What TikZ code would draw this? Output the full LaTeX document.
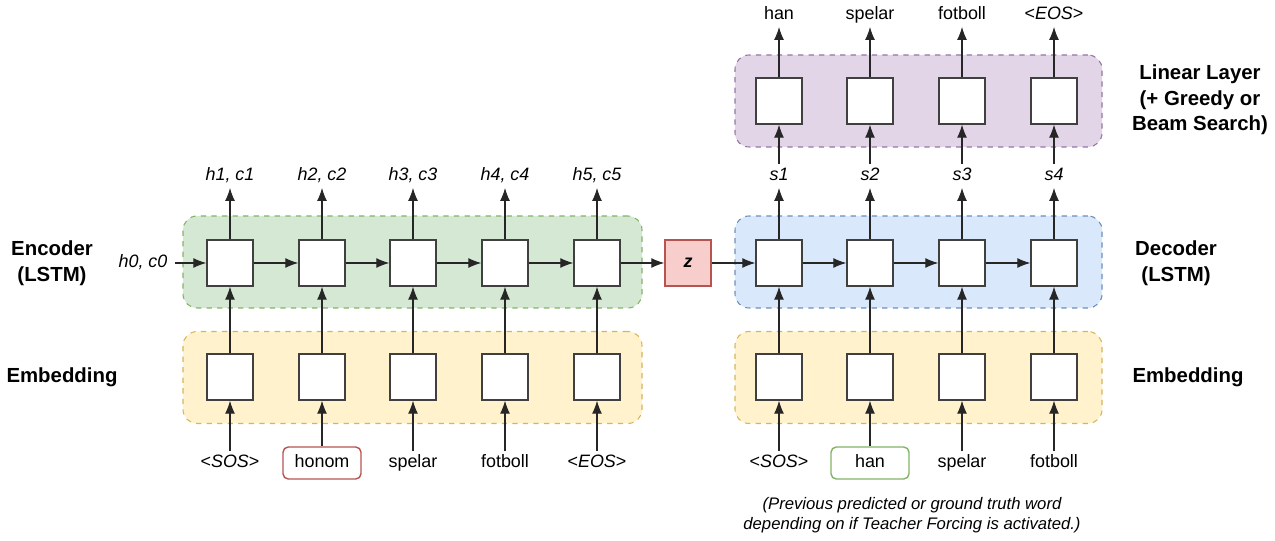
\documentclass[tikz,border=0pt]{standalone}
\usepackage{fontspec}
\setmainfont{Liberation Sans}
\usetikzlibrary{arrows.meta}

\definecolor{encfill}{HTML}{D5E8D4}
\definecolor{encline}{HTML}{82B366}
\definecolor{embfill}{HTML}{FFF2CC}
\definecolor{embline}{HTML}{D6B656}
\definecolor{decfill}{HTML}{DAE8FC}
\definecolor{decline}{HTML}{6C8EBF}
\definecolor{linfill}{HTML}{E1D5E7}
\definecolor{linline}{HTML}{9673A6}
\definecolor{zfill}{HTML}{F8CECC}
\definecolor{zline}{HTML}{B85450}

\begin{document}
\begin{tikzpicture}
    [
        font=\fontsize{10.2}{11.5}\selectfont,
        cell/.style={draw=black!75, fill=white, line width=0.8pt, minimum size=0.92cm, inner sep=0pt},
        layer/.style={draw=#1line, fill=#1fill, dashed, line width=0.6pt, rounded corners=8pt,
                      minimum width=9.18cm, minimum height=1.84cm, inner sep=0pt},
        title/.style={font=\fontsize{11.6}{14.5}\selectfont\bfseries, align=center},
        word/.style={inner sep=2pt, text height=0.72em, text depth=0.2em},
        wordbox/.style={draw=#1, fill=white, line width=0.8pt, rounded corners=3pt,
                        minimum width=1.56cm, minimum height=0.64cm, text height=0.72em, text depth=0.2em},
        edge/.style={-{Latex[length=2.6mm,width=2mm]}, line width=0.6pt, black!85},
    ]
    \useasboundingbox (0,0) rectangle (25.5,10.8);

    % backgrounds
    \node (encbg)  at (8.25,5.56)  [layer=enc] {};
    \node (embbg)  at (8.25,3.25)  [layer=emb] {};
    \node (decbg)  at (18.37,5.56) [layer=dec, minimum width=7.34cm] {};
    \node (demb)   at (18.37,3.25) [layer=emb, minimum width=7.34cm] {};
    \node (linbg)  at (18.37,8.78) [layer=lin, minimum width=7.34cm] {};

    % titles
    \node (tenc) at (1.04,5.54) [title] {Encoder\\(LSTM)};
    \node (temb) at (1.24,3.26) [title] {Embedding};
    \node (tdec) at (23.52,5.54) [title] {Decoder\\(LSTM)};
    \node (tdmb) at (23.76,3.26) [title] {Embedding};
    \node (tlin) at (24.0,8.8)   [title] {Linear Layer\\(+ Greedy or\\Beam Search)};

    % encoder
    \node (e1) at (4.6,5.54)   [cell] {};
    \node (e2) at (6.44,5.54)  [cell] {};
    \node (e3) at (8.26,5.54)  [cell] {};
    \node (e4) at (10.1,5.54)  [cell] {};
    \node (e5) at (11.94,5.54) [cell] {};

    \node (m1) at (4.6,3.26)   [cell] {};
    \node (m2) at (6.44,3.26)  [cell] {};
    \node (m3) at (8.26,3.26)  [cell] {};
    \node (m4) at (10.1,3.26)  [cell] {};
    \node (m5) at (11.94,3.26) [cell] {};

    \node (w1) at (4.6,1.54)   [word] {<\textit{SOS}>};
    \node (w2) at (6.44,1.54)  [wordbox=zline] {honom};
    \node (w3) at (8.26,1.54)  [word] {spelar};
    \node (w4) at (10.1,1.54)  [word] {fotboll};
    \node (w5) at (11.94,1.54) [word] {<\textit{EOS}>};

    \node (h0) at (2.86,5.54)  [word, inner sep=4pt] {\textit{h0, c0}};
    \node (h1) at (4.6,7.28)   [word] {\textit{h1, c1}};
    \node (h2) at (6.44,7.28)  [word] {\textit{h2, c2}};
    \node (h3) at (8.26,7.28)  [word] {\textit{h3, c3}};
    \node (h4) at (10.1,7.28)  [word] {\textit{h4, c4}};
    \node (h5) at (11.94,7.28) [word] {\textit{h5, c5}};

    % context vector
    \node (z) at (13.76,5.54) [cell, draw=zline, fill=zfill] {\textbf{\textit{z}}};

    % decoder
    \node (d1) at (15.58,5.54) [cell] {};
    \node (d2) at (17.4,5.54)  [cell] {};
    \node (d3) at (19.24,5.54) [cell] {};
    \node (d4) at (21.08,5.54) [cell] {};

    \node (n1) at (15.58,3.26) [cell] {};
    \node (n2) at (17.4,3.26)  [cell] {};
    \node (n3) at (19.24,3.26) [cell] {};
    \node (n4) at (21.08,3.26) [cell] {};

    \node (l1) at (15.58,8.78) [cell] {};
    \node (l2) at (17.4,8.78)  [cell] {};
    \node (l3) at (19.24,8.78) [cell] {};
    \node (l4) at (21.08,8.78) [cell] {};

    \node (i1) at (15.58,1.54) [word] {<\textit{SOS}>};
    \node (i2) at (17.4,1.54)  [wordbox=encline] {han};
    \node (i3) at (19.24,1.54) [word] {spelar};
    \node (i4) at (21.08,1.54) [word] {fotboll};

    \node (s1) at (15.58,7.28) [word] {\textit{s1}};
    \node (s2) at (17.4,7.28)  [word] {\textit{s2}};
    \node (s3) at (19.24,7.28) [word] {\textit{s3}};
    \node (s4) at (21.08,7.28) [word] {\textit{s4}};

    \node (o1) at (15.58,10.5) [word] {han};
    \node (o2) at (17.4,10.5)  [word] {spelar};
    \node (o3) at (19.24,10.5) [word] {fotboll};
    \node (o4) at (21.08,10.5) [word] {<\textit{EOS}>};

    \node (note) at (18.24,0.5) [align=center, font=\fontsize{9.5}{11.4}\selectfont\itshape]
        {(Previous predicted or ground truth word\\depending on if Teacher Forcing is activated.)};

    \path
    (w1) edge [edge] (m1)
    (w2) edge [edge] (m2)
    (w3) edge [edge] (m3)
    (w4) edge [edge] (m4)
    (w5) edge [edge] (m5)
    (m1) edge [edge] (e1)
    (m2) edge [edge] (e2)
    (m3) edge [edge] (e3)
    (m4) edge [edge] (e4)
    (m5) edge [edge] (e5)
    (e1) edge [edge] (h1)
    (e2) edge [edge] (h2)
    (e3) edge [edge] (h3)
    (e4) edge [edge] (h4)
    (e5) edge [edge] (h5)
    (h0) edge [edge] (e1)
    (e1) edge [edge] (e2)
    (e2) edge [edge] (e3)
    (e3) edge [edge] (e4)
    (e4) edge [edge] (e5)
    (e5) edge [edge] (z)
    (z)  edge [edge] (d1);

    \path
    (i1) edge [edge] (n1)
    (i2) edge [edge] (n2)
    (i3) edge [edge] (n3)
    (i4) edge [edge] (n4)
    (n1) edge [edge] (d1)
    (n2) edge [edge] (d2)
    (n3) edge [edge] (d3)
    (n4) edge [edge] (d4)
    (d1) edge [edge] (s1)
    (d2) edge [edge] (s2)
    (d3) edge [edge] (s3)
    (d4) edge [edge] (s4)
    (d1) edge [edge] (d2)
    (d2) edge [edge] (d3)
    (d3) edge [edge] (d4)
    (s1) edge [edge] (l1)
    (s2) edge [edge] (l2)
    (s3) edge [edge] (l3)
    (s4) edge [edge] (l4)
    (l1) edge [edge] (o1)
    (l2) edge [edge] (o2)
    (l3) edge [edge] (o3)
    (l4) edge [edge] (o4);

\end{tikzpicture}
\end{document}
